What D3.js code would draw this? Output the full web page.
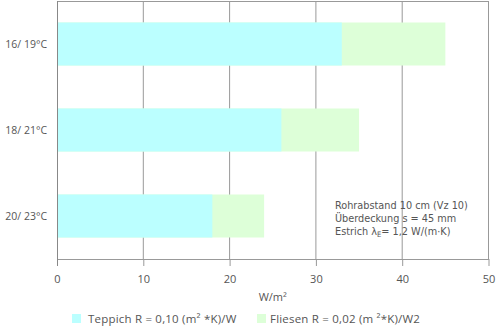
<!DOCTYPE html>
<html>
<head>
<meta charset="utf-8">
<script src="https://cdn.jsdelivr.net/npm/d3@7"></script>
<style>
  html, body { margin: 0; padding: 0; background: #fff; }
  svg { display: block; font-family: "Open Sans", sans-serif; }
</style>
</head>
<body>
<svg id="chart" width="497" height="328"></svg>
<script>
// Heat output per supply/return temperature pair
const categories = ["16/ 19°C", "18/ 21°C", "20/ 23°C"];
const teppich = [33, 26, 18];   // carpet, R = 0.10
const fliesen = [45, 35, 24];   // tiles, R = 0.02
const xTicks = [0, 10, 20, 30, 40, 50];
const seriesNames = ["Teppich R = 0,10 (m² *K)/W", "Fliesen R = 0,02 (m ²*K)/W2"];
const noteLines = ["Rohrabstand 10 cm (Vz 10)", "Überdeckung s = 45 mm"];

const colTeppich = "#bbffff";
const colFliesen = "#ddffd8";
const textCol = "#555";
const gridCol = "#999";

const svg = d3.select("#chart");
const m = { left: 57, right: 488.5, top: 1, bottom: 259 };

const x = d3.scaleLinear().domain([0, 50]).range([m.left, m.right]);
const y = d3.scaleBand().domain(categories).range([m.top, m.bottom])
  .paddingInner(0.5).paddingOuter(0.25);

// vertical gridlines and top frame
svg.append("g").selectAll("line").data(xTicks.filter(d => d > 0)).join("line")
  .attr("x1", d => x(d)).attr("x2", d => x(d))
  .attr("y1", m.top).attr("y2", m.bottom)
  .attr("stroke", gridCol).attr("stroke-width", 1);
svg.append("line")
  .attr("x1", x(0)).attr("x2", x(50)).attr("y1", m.top + 0.5).attr("y2", m.top + 0.5)
  .attr("stroke", gridCol);

// bars: tiles behind, carpet in front
svg.append("g").selectAll("rect").data(categories).join("rect")
  .attr("x", x(0)).attr("y", d => y(d))
  .attr("width", (d, i) => x(fliesen[i]) - x(0))
  .attr("height", y.bandwidth())
  .attr("fill", colFliesen);
svg.append("g").selectAll("rect").data(categories).join("rect")
  .attr("x", x(0)).attr("y", d => y(d))
  .attr("width", (d, i) => x(teppich[i]) - x(0))
  .attr("height", y.bandwidth())
  .attr("fill", colTeppich);

// x axis
const xAxis = svg.append("g")
  .attr("transform", `translate(0,${m.bottom})`)
  .call(d3.axisBottom(x).tickValues(xTicks).tickSize(7).tickPadding(9).tickSizeOuter(0));
xAxis.select(".domain").attr("stroke", gridCol);
xAxis.selectAll(".tick line").attr("stroke", gridCol);
xAxis.selectAll("text").attr("fill", textCol).style("font-size", "11px")
  .style("font-family", "'Open Sans', sans-serif");

// left axis line
svg.append("line")
  .attr("x1", x(0) + 0.5).attr("x2", x(0) + 0.5)
  .attr("y1", m.top).attr("y2", m.bottom + 7)
  .attr("stroke", "#888");

// category labels
svg.append("g").selectAll("text").data(categories).join("text")
  .attr("x", 47).attr("y", d => y(d) + y.bandwidth() / 2 + 4)
  .attr("text-anchor", "end").attr("fill", textCol)
  .style("font-size", "10.5px").text(d => d);

// axis unit
svg.append("text").attr("x", (m.left + m.right) / 2).attr("y", 301)
  .attr("text-anchor", "middle").attr("fill", textCol).style("font-size", "11px")
  .text("W/m²");

// note, one text element per line in a compact face
const noteG = svg.append("g").attr("fill", textCol)
  .style("font-family", "'DejaVu Sans Condensed', 'DejaVu Sans', sans-serif")
  .style("font-size", "10.8px");
noteLines.forEach((t, i) => {
  noteG.append("text").attr("x", 335).attr("y", 209 + i * 13).text(t);
});
const l3 = noteG.append("text").attr("x", 335).attr("y", 235);
l3.append("tspan").text("Estrich λ");
l3.append("tspan").attr("dy", 2).style("font-size", "7.5px").text("E");
l3.append("tspan").attr("dy", -2).text("= 1,2 W/(m·K)");

// legend
const legend = [
  { name: seriesNames[0], color: colTeppich, sx: 72, tx: 88 },
  { name: seriesNames[1], color: colFliesen, sx: 257, tx: 270 }
];
const lg = svg.append("g").selectAll("g").data(legend).join("g");
lg.append("rect").attr("x", d => d.sx).attr("y", 314).attr("width", 9).attr("height", 9)
  .attr("fill", d => d.color);
lg.append("text").attr("x", d => d.tx).attr("y", 323).attr("fill", textCol)
  .style("font-size", "11.5px").style("letter-spacing", "0.2px").text(d => d.name);
</script>
</body>
</html>
